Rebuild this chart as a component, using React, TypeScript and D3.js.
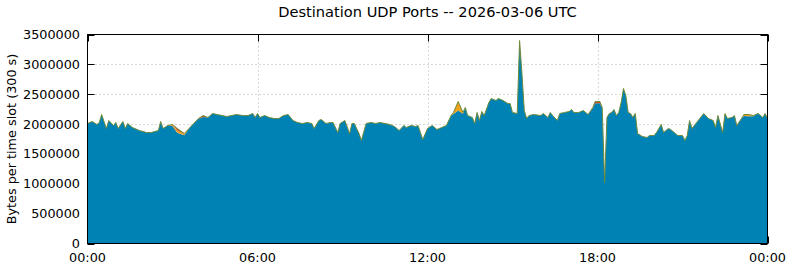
import React from "react";
import * as d3 from "d3";

// minutes since 00:00 UTC (300 s slots, read at visible turning points)
const slotMinutes = [
  0, 10, 20, 25, 30, 40, 45, 55, 60, 65,
  75, 80, 85, 95, 110, 125, 135, 150, 155, 160,
  170, 180, 190, 205, 215, 225, 235, 245, 255, 265,
  275, 285, 295, 305, 315, 330, 340, 350, 355, 360,
  365, 375, 385, 395, 405, 415, 425, 435, 445, 455,
  465, 475, 480, 490, 495, 505, 515, 520, 530, 535,
  545, 555, 560, 565, 575, 580, 590, 600, 610, 620,
  630, 640, 650, 660, 670, 675, 685, 695, 700, 710,
  720, 730, 740, 750, 760, 770, 775, 785, 795, 800,
  805, 815, 820, 825, 830, 835, 840, 850, 855, 865,
  870, 880, 890, 895, 900, 910, 915, 920, 925, 930,
  935, 945, 960, 965, 975, 980, 985, 995, 1000, 1010,
  1020, 1025, 1030, 1040, 1050, 1060, 1070, 1075, 1085, 1090,
  1095, 1100, 1105, 1110, 1115, 1120, 1125, 1130, 1135, 1140,
  1145, 1150, 1155, 1160, 1165, 1175, 1185, 1190, 1200, 1205,
  1215, 1220, 1230, 1235, 1245, 1250, 1260, 1265, 1270, 1275,
  1280, 1290, 1295, 1305, 1315, 1325, 1330, 1335, 1345, 1350,
  1355, 1365, 1370, 1375, 1385, 1390, 1400, 1410, 1420, 1430,
  1435, 1440,
];

// total bytes per slot (thousands)
const totalK = [
  2010, 2043, 1993, 2026, 2160, 1926, 2060, 1976, 2026, 1926,
  2043, 1926, 2010, 1943, 1892, 1859, 1859, 1892, 2043, 1926,
  1976, 1993, 1926, 1842, 1926, 2010, 2093, 2143, 2110, 2177,
  2160, 2143, 2127, 2143, 2160, 2143, 2143, 2177, 2110, 2177,
  2110, 2143, 2110, 2093, 2093, 2143, 2160, 2060, 2026, 2010,
  2026, 2010, 1926, 2060, 2077, 2010, 2026, 2026, 1859, 2010,
  2060, 1842, 2010, 2010, 1842, 1725, 2010, 2026, 2010, 2026,
  2010, 1993, 1960, 1892, 1976, 1943, 1976, 1960, 1976, 1740,
  1926, 1976, 1909, 1943, 1976, 2143, 2194, 2378, 2194, 2277,
  2143, 2110, 2010, 2194, 2060, 2210, 2143, 2361, 2428, 2395,
  2428, 2395, 2344, 2344, 2194, 2177, 3399, 2847, 2227, 2093,
  2143, 2160, 2143, 2177, 2110, 2194, 2143, 2060, 2177, 2194,
  2210, 2244, 2194, 2194, 2227, 2160, 2277, 2378, 2378, 2277,
  1020, 2110, 2177, 2194, 2244, 2143, 2194, 2361, 2596, 2478,
  2194, 2177, 2110, 2177, 1842, 1792, 1775, 1809, 1809, 1859,
  1993, 1859, 1926, 1909, 1842, 1809, 1809, 1725, 1809, 2060,
  1926, 2026, 2077, 2177, 2093, 2060, 1943, 2143, 1859, 2177,
  2093, 2110, 2143, 1976, 2093, 2160, 2160, 2143, 2177, 2110,
  2177, 2093,
];

// small port series (thousands) at the slots where they show
const orangeK: [number, number][] = [
  [180, 15], [190, 35], [205, 20], [775, 25], [785, 150], [795, 20],
  [1390, 25], [1400, 30], [1410, 10],
];
const redK: [number, number][] = [
  [180, 10], [190, 35], [205, 10], [235, 10], [245, 25],
  [1070, 10], [1075, 30], [1085, 30], [1090, 10],
];

const yTicks = [0, 500000, 1000000, 1500000, 2000000, 2500000, 3000000, 3500000];
const xTickMinutes = [0, 360, 720, 1080, 1440];
const xTickLabels = ["00:00", "06:00", "12:00", "18:00", "00:00"];

const W = 790;
const H = 267;
const L = 87.5, R = 767.5, T = 34.5, B = 243.5;
const FONT = "'DejaVu Sans', sans-serif";

export default function App() {
  const x = d3.scaleLinear().domain([0, 1440]).range([L, R]);
  const y = d3.scaleLinear().domain([0, 3500000]).range([B, T]);

  const orangeMap = new Map(orangeK);
  const redMap = new Map(redK);
  const rows = slotMinutes.map((m, i) => {
    const o = (orangeMap.get(m) ?? 0) * 1000;
    const r = (redMap.get(m) ?? 0) * 1000;
    return { m, blue: totalK[i] * 1000 - o - r, orange: o, red: r };
  });
  const keys = ["blue", "orange", "red"];
  const colors: Record<string, string> = { blue: "#0083b4", orange: "#f0a21c", red: "#d2521c" };
  const series = d3.stack<any>().keys(keys)(rows);
  const area = d3
    .area<any>()
    .x((d) => x(d.data.m))
    .y0((d) => y(d[0]))
    .y1((d) => y(d[1]));
  const topLine = d3
    .line<any>()
    .x((d) => x(d.m))
    .y((d) => y(d.blue + d.orange + d.red));

  return (
    <svg width={W} height={H} style={{ position: "absolute", left: 0, top: 0, background: "#fff" }}>
      <rect x={0} y={0} width={W} height={H} fill="#fff" />
      {/* grid */}
      {yTicks.slice(1, -1).map((t) => (
        <line key={"gy" + t} x1={L} x2={R} y1={Math.round(y(t)) + 0.5} y2={Math.round(y(t)) + 0.5}
          stroke="#b0b0b0" strokeWidth={1} strokeDasharray="1,3" />
      ))}
      {xTickMinutes.slice(1, -1).map((t) => (
        <line key={"gx" + t} y1={T} y2={B} x1={Math.round(x(t)) + 0.5} x2={Math.round(x(t)) + 0.5}
          stroke="#b0b0b0" strokeWidth={1} strokeDasharray="1,3" />
      ))}
      {/* ticks (mirrored, inward) */}
      {yTicks.map((t) => {
        const yy = Math.round(y(t)) + 0.5;
        return (
          <g key={"ty" + t}>
            <line x1={L} x2={L + 7} y1={yy} y2={yy} stroke="#000" />
            <line x1={R - 7} x2={R} y1={yy} y2={yy} stroke="#000" />
          </g>
        );
      })}
      {xTickMinutes.map((t, i) => {
        const xx = Math.round(x(t)) + 0.5;
        return (
          <g key={"tx" + i}>
            <line x1={xx} x2={xx} y1={B} y2={B - 7} stroke="#000" />
            <line x1={xx} x2={xx} y1={T} y2={T + 7} stroke="#000" />
          </g>
        );
      })}
      {/* stacked areas */}
      {series.map((s) => (
        <path key={s.key} d={area(s) ?? ""} fill={colors[s.key]} stroke="none" />
      ))}
      <path d={topLine(rows) ?? ""} fill="none" stroke="#6f8a3a" strokeWidth={1} />
      {/* border */}
      <rect x={L} y={T} width={R - L} height={B - T} fill="none" stroke="#000" strokeWidth={1} />
      {/* y tick labels */}
      {yTicks.map((t) => (
        <text key={"ly" + t} x={80} y={y(t)} dy="0.35em" textAnchor="end" fontFamily={FONT} fontSize={12.8} fill="#000">
          {String(t)}
        </text>
      ))}
      {xTickMinutes.map((t, i) => (
        <text key={"lx" + i} x={x(t)} y={262} textAnchor="middle" fontFamily={FONT} fontSize={12.8} fill="#000">
          {xTickLabels[i]}
        </text>
      ))}
      <text x={(L + R) / 2} y={16.5} textAnchor="middle" fontFamily={FONT} fontSize={14.6} fill="#000">
        Destination UDP Ports -- 2026-03-06 UTC
      </text>
      <text transform={`translate(16,${(T + B) / 2}) rotate(-90)`} textAnchor="middle" fontFamily={FONT} fontSize={12.8} fill="#000">
        Bytes per time slot (300 s)
      </text>
    </svg>
  );
}
